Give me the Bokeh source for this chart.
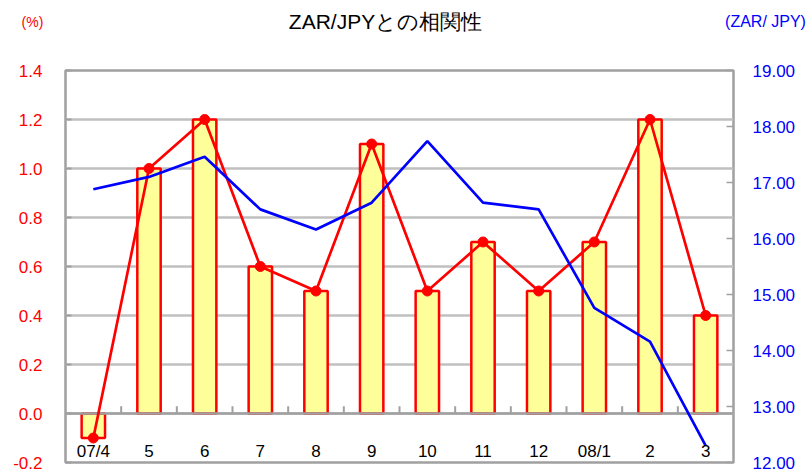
from bokeh.plotting import figure
from bokeh.layouts import column
from bokeh.models import (Range1d, LinearAxis, FixedTicker, NumeralTickFormatter,
                          ColumnDataSource)
from bokeh.core.properties import value
from bokeh.embed import file_html
from bokeh.resources import INLINE

categories = ["07/4", "5", "6", "7", "8", "9", "10", "11", "12", "08/1", "2", "3"]
correlation = [-0.1, 1.0, 1.2, 0.6, 0.5, 1.1, 0.5, 0.7, 0.5, 0.7, 1.2, 0.4]
zarjpy = [16.88, 17.10, 17.46, 16.52, 16.16, 16.64, 17.74, 16.64, 16.52, 14.76, 14.16, 12.30]
left_ticks = [-0.2, 0.0, 0.2, 0.4, 0.6, 0.8, 1.0, 1.2, 1.4]
right_ticks = [12, 13, 14, 15, 16, 17, 18, 19]
title_text = "ZAR/JPYとの相関性"
left_unit = "(%)"
right_unit = "(ZAR/ JPY)"

FONT = "Liberation Sans"
W, H = 807, 471
HEAD = 45
xs = list(range(1, len(categories) + 1))

# ---- header strip with title and unit labels ----
hdr = figure(width=W, height=HEAD, x_range=Range1d(0, W), y_range=Range1d(HEAD, 0),
             output_backend="svg", toolbar_location=None,
             x_axis_location=None, y_axis_location=None,
             min_border_left=0, min_border_right=0, min_border_top=0, min_border_bottom=0)
hdr.frame_align = False
hdr.outline_line_color = None
hdr.xgrid.grid_line_color = None
hdr.ygrid.grid_line_color = None
hdr.background_fill_color = "white"
hdr.border_fill_color = "white"
hdr.text(x=[385], y=[21], text=[title_text], text_font=value(FONT), text_font_size="21px",
         text_color="black", text_align="center", text_baseline="middle")
hdr.text(x=[32], y=[21], text=[left_unit], text_font=value(FONT), text_font_size="14px",
         text_color="#ff0000", text_align="center", text_baseline="middle")
hdr.text(x=[765], y=[21], text=[right_unit], text_font=value(FONT), text_font_size="16px",
         text_color="#0000ff", text_align="center", text_baseline="middle")

# ---- main chart ----
src = ColumnDataSource(dict(x=xs, cat=categories, corr=correlation, fx=zarjpy,
                            zero=[0] * len(xs), laby=[-0.155] * len(xs)))

p = figure(width=W, height=H - HEAD, x_range=Range1d(0.5, len(categories) + 0.5),
           y_range=Range1d(left_ticks[0], left_ticks[-1]),
           output_backend="svg", toolbar_location=None,
           x_axis_location=None, y_axis_location="left",
           min_border_left=65, min_border_right=74, min_border_top=70 - HEAD,
           min_border_bottom=9)
p.frame_align = False
p.background_fill_color = "white"
p.border_fill_color = "white"
p.outline_line_color = "#a0a0a0"
p.outline_line_width = 2.5

p.extra_y_ranges = {"fx": Range1d(right_ticks[0], right_ticks[-1])}

# left axis
ya = p.yaxis[0]
ya.ticker = FixedTicker(ticks=left_ticks)
ya.formatter = NumeralTickFormatter(format="0.0")
ya.axis_line_color = None
ya.major_tick_in = 6
ya.major_tick_out = 0
ya.major_tick_line_color = "#a0a0a0"
ya.major_tick_line_width = 2
ya.minor_tick_line_color = None
ya.major_label_text_color = "#ff0000"
ya.major_label_text_font = FONT
ya.major_label_text_font_size = "17px"
ya.major_label_standoff = 23

# right axis
ra = LinearAxis(y_range_name="fx", ticker=FixedTicker(ticks=right_ticks),
                formatter=NumeralTickFormatter(format="0.00"))
ra.axis_line_color = None
ra.major_tick_in = 7
ra.major_tick_out = 0
ra.major_tick_line_color = "#a0a0a0"
ra.major_tick_line_width = 1.5
ra.minor_tick_line_color = None
ra.major_label_text_color = "#0000ff"
ra.major_label_text_font = FONT
ra.major_label_text_font_size = "17px"
ra.major_label_standoff = 19
p.add_layout(ra, "right")

p.xgrid.grid_line_color = None
p.ygrid.ticker = FixedTicker(ticks=left_ticks)
p.ygrid.grid_line_color = "#c0c0c0"
p.ygrid.grid_line_width = 2.5

# bars
p.vbar(x="x", bottom="zero", top="corr", width=0.42, source=src,
       fill_color="#ffff99", line_color="#ff0000", line_width=2.5)

# zero line and category separators
p.hspan(y=[0], line_color="#a0a0a0", line_width=2.5)
bounds = [x + 0.5 for x in xs[:-1]]
p.segment(x0=bounds, x1=bounds, y0=[0] * len(bounds), y1=[0.03] * len(bounds),
          line_color="#a0a0a0", line_width=2)

# red correlation line
p.line(x="x", y="corr", source=src, line_color="#ff0000", line_width=2.7)
p.scatter(x="x", y="corr", source=src, size=10, fill_color="#ff0000", line_color="#ff0000")

# blue ZAR/JPY line
p.line(x="x", y="fx", source=src, y_range_name="fx", line_color="#0000ff", line_width=2.7)

# category labels inside frame
p.text(x="x", y="laby", text="cat", source=src, text_font=value(FONT),
       text_font_size="17px", text_color="black", text_align="center",
       text_baseline="middle")

layout = column(hdr, p, spacing=0)
open("out.html", "w").write(file_html(layout, INLINE))
